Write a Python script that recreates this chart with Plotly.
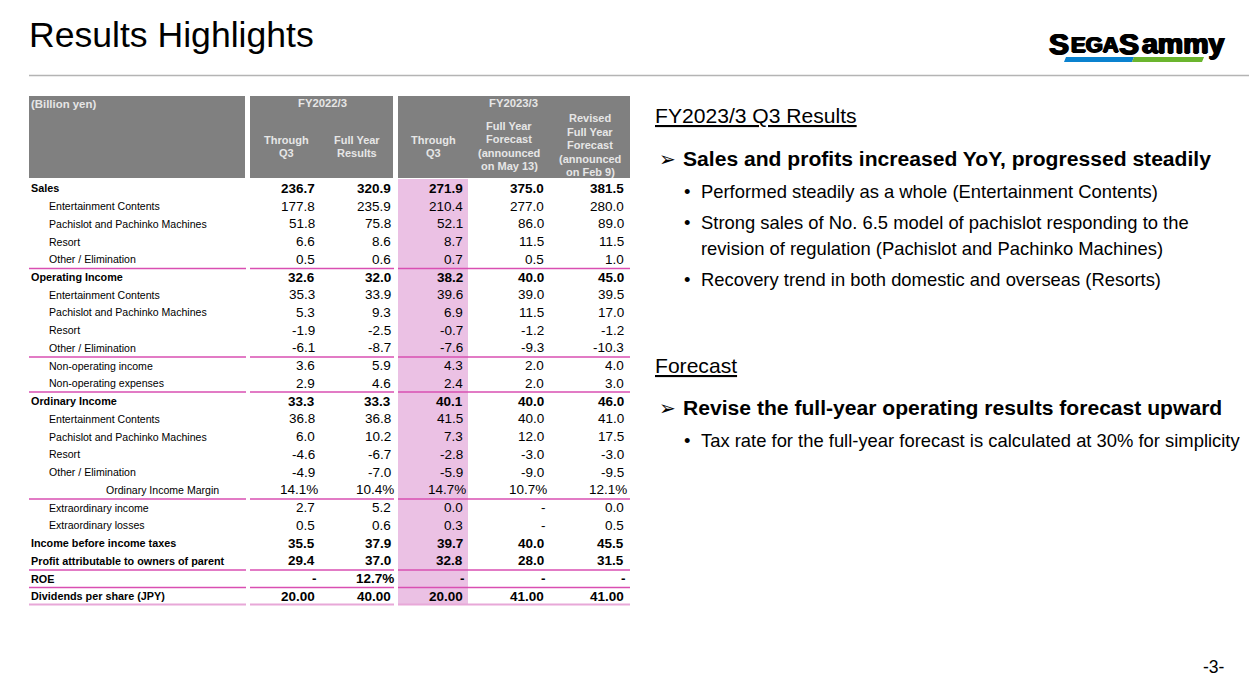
import plotly.graph_objects as go

labels = ["Sales","Entertainment Contents","Pachislot and Pachinko Machines","Resort","Other / Elimination",
          "Operating Income","Entertainment Contents","Pachislot and Pachinko Machines","Resort","Other / Elimination",
          "Non-operating income","Non-operating expenses",
          "Ordinary Income","Entertainment Contents","Pachislot and Pachinko Machines","Resort","Other / Elimination",
          "Ordinary Income Margin","Extraordinary income","Extraordinary losses",
          "Income before income taxes","Profit attributable to owners of parent","ROE","Dividends per share (JPY)"]
fy22_q3 = ["236.7","177.8","51.8","6.6","0.5","32.6","35.3","5.3","-1.9","-6.1","3.6","2.9","33.3","36.8","6.0","-4.6","-4.9","14.1%","2.7","0.5","35.5","29.4","-","20.00"]
fy22_fy = ["320.9","235.9","75.8","8.6","0.6","32.0","33.9","9.3","-2.5","-8.7","5.9","4.6","33.3","36.8","10.2","-6.7","-7.0","10.4%","5.2","0.6","37.9","37.0","12.7%","40.00"]
fy23_q3 = ["271.9","210.4","52.1","8.7","0.7","38.2","39.6","6.9","-0.7","-7.6","4.3","2.4","40.1","41.5","7.3","-2.8","-5.9","14.7%","0.0","0.3","39.7","32.8","-","20.00"]
fy23_fc = ["375.0","277.0","86.0","11.5","0.5","40.0","39.0","11.5","-1.2","-9.3","2.0","2.0","40.0","40.0","12.0","-3.0","-9.0","10.7%","-","-","40.0","28.0","-","41.00"]
fy23_rv = ["381.5","280.0","89.0","11.5","1.0","45.0","39.5","17.0","-1.2","-10.3","4.0","3.0","46.0","41.0","17.5","-3.0","-9.5","12.1%","0.0","0.5","45.5","31.5","-","41.00"]
bold_rows = {0, 5, 12, 20, 21, 22, 23}
columns = [fy22_q3, fy22_fy, fy23_q3, fy23_fc, fy23_rv]
col_right = [316, 392, 464, 545, 625]
col_center = [286, 357, 433, 509, 590]
headers = [(["Through", "Q3"], 139.5), (["Full Year", "Results"], 139.5), (["Through", "Q3"], 139.5),
           (["Full Year", "Forecast", "(announced", "on May 13)"], 125.5),
           (["Revised", "Full Year", "Forecast", "(announced", "on Feb 9)"], 118)]
rule_rows = [268.5, 357, 392, 499, 570, 587.5]

FONT = "Liberation Sans"
GREY, PINK, RULE, HEAD = "#808080", "#EBC1E4", "#D94FB2", "#E6E6E6"
anns, shapes = [], []

def text(x, y, s, size, color="#000000", anchor="left", family=FONT, **f):
    anns.append(dict(x=x, y=y, text=s, xref="x", yref="y", showarrow=False, xanchor=anchor, yanchor="middle",
                     align=anchor, borderpad=0, font=dict(family=family, size=size, color=color, **f)))

def rect(x0, y0, x1, y1, color, **kw):
    shapes.append(dict(type="rect", xref="x", yref="y", x0=x0, y0=y0, x1=x1, y1=y1,
                       fillcolor=color, line=dict(width=0), layer="below", **kw))

def line(x0, y0, x1, y1, color, width=1):
    shapes.append(dict(type="line", xref="x", yref="y", x0=x0, y0=y0, x1=x1, y1=y1,
                       line=dict(color=color, width=width), layer="below"))

# slide header
text(28, 35, "Results Highlights", 35.6)
line(29, 75.5, 1249, 75.5, "#B4B4B4", 1.3)
logo_fat = "1px 0 0 #000, -1px 0 0 #000, 0 0.5px 0 #000"
text(1048, 43, "<b>S</b>", 30, shadow=logo_fat)
text(1070, 44, "<b>EGA</b>", 22, shadow=logo_fat)
text(1118, 43, "<b>S</b>", 30, shadow=logo_fat)
text(1141, 43, "<b>ammy</b>", 28.5, shadow=logo_fat)
shapes.append(dict(type="path", path="M 1066 57 L 1134 57 L 1132 62 L 1064 62 Z", fillcolor="#0A82CF", line=dict(width=0)))
shapes.append(dict(type="path", path="M 1134 57 L 1204 57 L 1202 62 L 1132 62 Z", fillcolor="#6BB52E", line=dict(width=0)))

# table header
for x0, x1 in [(29, 245), (250, 393), (398, 630)]:
    rect(x0, 96, x1, 178, GREY)
text(30, 104, "<b>(Billion yen)</b>", 11.4, HEAD)
text(322, 103, "<b>FY2022/3</b>", 11.3, HEAD, "center")
text(513, 103, "<b>FY2023/3</b>", 11.3, HEAD, "center")
for cx, (lines, y0) in zip(col_center, headers):
    for k, s in enumerate(lines):
        text(cx, y0 + k * 13.5, f"<b>{s}</b>", 11, HEAD, "center")

# table body
rect(398, 179, 468, 605, PINK)
for y in rule_rows:
    for x0, x1 in [(29, 246), (250, 394), (398, 630)]:
        line(x0, y, x1, y, RULE, 1.3)
for x0, x1 in [(29, 246), (250, 394), (398, 630)]:
    line(x0, 604.5, x1, 604.5, "#E8A8D8", 1.8)
row_y = [188.3 + 17.74 * i for i in range(len(labels))]
for i, (lab, y) in enumerate(zip(labels, row_y)):
    b = i in bold_rows
    if lab == "Ordinary Income Margin":
        text(220, y, lab, 10.55, anchor="right")
    elif b:
        text(30, y, f"<b>{lab}</b>", 10.8)
    else:
        text(48, y, lab, 10.55)
    for vals, right in zip(columns, col_right):
        v = vals[i]
        xr = right + (3 if v.endswith("%") else 0) + (2 if v == "-" else 0)
        text(xr, y, f"<b>{v}</b>" if b else v, 13.5, anchor="right")

# commentary
text(654, 115.3, "FY2023/3 Q3 Results", 21.1, lineposition="under")
text(658, 159, "<b>➢</b>", 20, family="DejaVu Sans")
text(682, 158.3, "<b>Sales and profits increased YoY, progressed steadily</b>", 21.1)
bullets = [(191.5, "Performed steadily as a whole (Entertainment Contents)"),
           (222.5, "Strong sales of No. 6.5 model of pachislot responding to the"),
           (279.5, "Recovery trend in both domestic and overseas (Resorts)"),
           (440.5, "Tax rate for the full-year forecast is calculated at 30% for simplicity")]
for y, s in bullets:
    text(683, y, "•", 18.4)
    text(700, y, s, 18.4)
text(700, 248.5, "revision of regulation (Pachislot and Pachinko Machines)", 18.4)
text(654, 365.3, "Forecast", 21.1, lineposition="under")
text(658, 408, "<b>➢</b>", 20, family="DejaVu Sans")
text(682, 407.3, "<b>Revise the full-year operating results forecast upward</b>", 21.1)
text(1226, 667, "-3-", 17.5, anchor="right")

fig = go.Figure()
fig.add_trace(go.Scatter(x=[0], y=[0], mode="markers", marker=dict(opacity=0), hoverinfo="skip", showlegend=False))
fig.update_layout(width=1249, height=695, margin=dict(l=0, r=0, t=0, b=0), paper_bgcolor="white", plot_bgcolor="white",
                  xaxis=dict(range=[0, 1249], visible=False), yaxis=dict(range=[695, 0], visible=False),
                  annotations=anns, shapes=shapes, showlegend=False)
fig.write_html("out.html", config={"displayModeBar": False},
               post_script="document.body.style.margin='0';document.documentElement.style.overflow='hidden';")
